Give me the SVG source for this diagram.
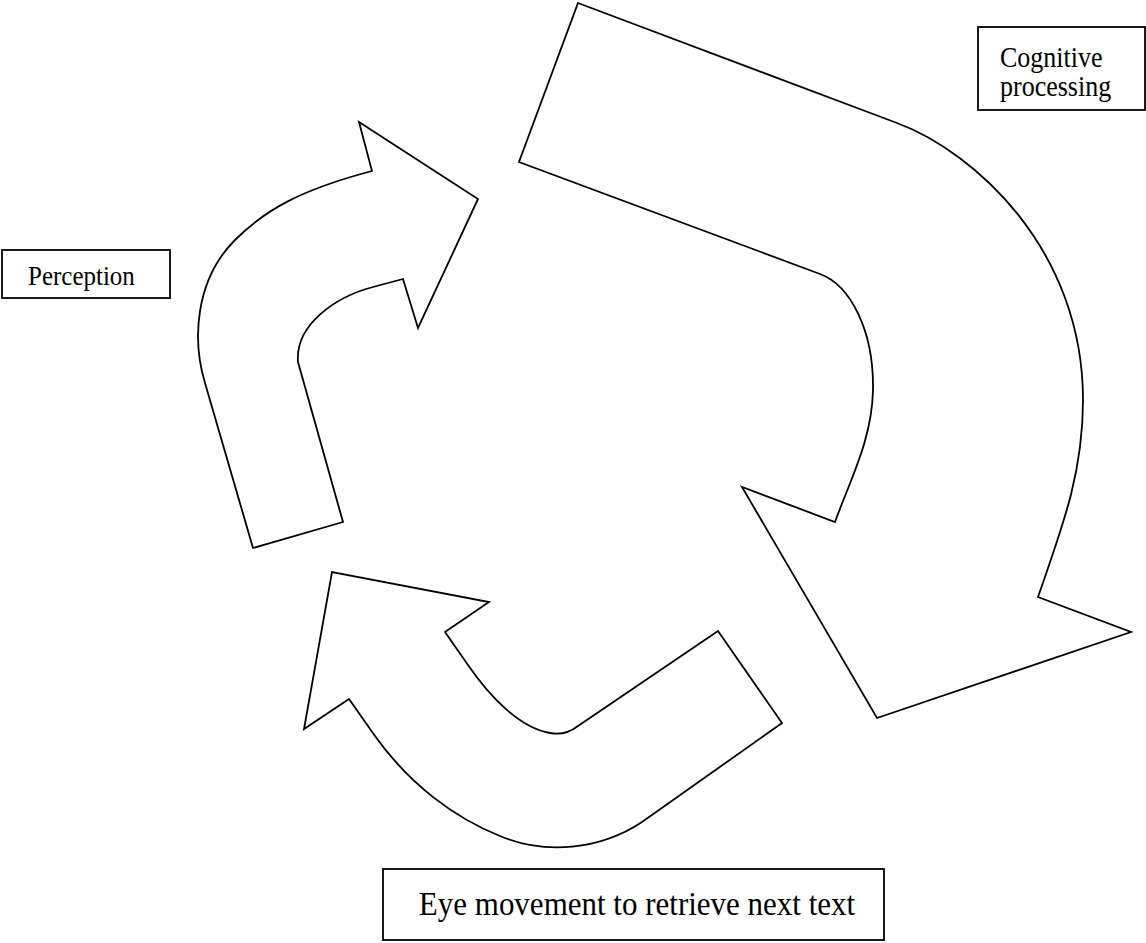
<svg xmlns="http://www.w3.org/2000/svg" width="1146" height="943" viewBox="0 0 1146 943">
<style>
.arrow{fill:#fff;stroke:#000;stroke-width:1.8;stroke-linejoin:miter}
.box{fill:#fff;stroke:#000;stroke-width:1.8}
.lbl{font-family:"Liberation Serif","Times New Roman",serif;fill:#000}
</style>
<rect width="1146" height="943" fill="#fff"/>
<g id="connectors">
<path id="arrow-perception" class="arrow" d="M253,548 L205,383 C192,340 195,280 235,240 C265,210 300,190 372,171 L359,122 L478,199 L418,328 L403,279 L373,287 C335,297 295,325 298,362 L343,522 Z"/>
<path id="arrow-cognitive" class="arrow" d="M578,3 L897,123 C975,152 1083,250 1083,400 C1083,470 1065,520 1038,597 L1131,632 L877,718 L742,487 L835,522 C850,480 872,440 873,390 C874,330 850,285 820,274 L519,162 Z"/>
<path id="arrow-eye" class="arrow" d="M718,631 L782,723 L642,822 C600,850 545,855 500,836 C455,818 410,785 375,736 L349,699 L304,729 L332,572 L489,602 L445,632 L468,665 C490,697 520,728 550,733 Q565,736 578,726 Z"/>
</g>
<g id="node-perception">
<rect class="box" x="2" y="250" width="168" height="48"/>
<text class="lbl" font-size="25" transform="translate(28,285) scale(1,1.12)">Perception</text>
</g>
<g id="node-cognitive">
<rect class="box" x="978" y="27" width="167" height="83"/>
<text class="lbl" font-size="26" transform="translate(1000,67) scale(1,1.1)">Cognitive</text>
<text class="lbl" font-size="26" transform="translate(1000,96) scale(1,1.1)">processing</text>
</g>
<g id="node-eye">
<rect class="box" x="383" y="869" width="501" height="71"/>
<text class="lbl" font-size="31" text-anchor="middle" transform="translate(637,915) scale(1,1.12)">Eye movement to retrieve next text</text>
</g>
</svg>
